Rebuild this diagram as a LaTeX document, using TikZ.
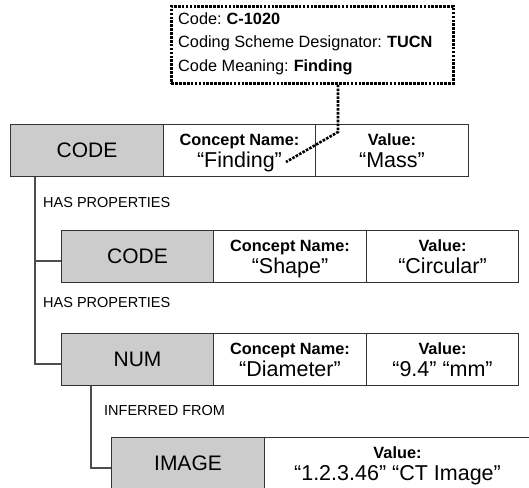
\documentclass[tikz,border=0pt]{standalone}
\usepackage{fontspec}
\setmainfont{Liberation Sans}
\usetikzlibrary{calc}
\definecolor{cellgray}{HTML}{CCCCCC}
\definecolor{edgegray}{HTML}{333333}
\definecolor{linkgray}{HTML}{4D4D4D}
\newcommand{\fsz}[1]{\fontsize{#1}{#1}\selectfont}
\begin{document}
\begin{tikzpicture}[x=1pt,y=-1pt,
  cell/.style={draw=edgegray, line width=1pt, inner sep=0pt, minimum height=52pt, anchor=north west},
  typecell/.style={cell, fill=cellgray},
  typetxt/.style={anchor=base, inner sep=0pt, font=\fsz{21}},
  headtxt/.style={anchor=base, inner sep=0pt, font=\fsz{16.3}\bfseries},
  valtxt/.style={anchor=base, inner sep=0pt, font=\fsz{21.5}},
  reltxt/.style={anchor=base west, inner sep=0pt, font=\fsz{14.5}},
  link/.style={draw=linkgray, line width=1.1pt},
  dotline/.style={draw=black, line width=2.6pt, dash pattern=on 2.6pt off 1.3pt},
  calltxt/.style={anchor=base west, inner sep=0pt, font=\fsz{16.3}}
]
\useasboundingbox (0,0) rectangle (529,487);
\clip (0,0) rectangle (529,487);

% callout
\node[dotline, minimum width=282pt, minimum height=77pt, inner sep=0pt, anchor=north west] (call) at (170,5) {};
\path (call.north west) ++(8,20) node[calltxt] (cl1) {Code:\hspace{5pt}\textbf{C-1020}};
\path (call.north west) ++(8,43) node[calltxt] (cl2) {Coding Scheme Designator:\hspace{5pt}\textbf{TUCN}};
\path (call.north west) ++(8,66) node[calltxt] (cl3) {Code Meaning:\hspace{5pt}\textbf{Finding}};

% row 1
\node[typecell, minimum width=153pt] (r1t) at (10,124) {};
\node[cell, minimum width=152pt] (r1n) at (163,124) {};
\node[cell, minimum width=153pt] (r1v) at (315,124) {};
\path (r1t.north) ++(0,33) node[typetxt] (r1tt) {CODE};
\path (r1n.north) ++(0,21) node[headtxt] (r1nh) {Concept Name:};
\path (r1n.north) ++(0,43) node[valtxt] (r1nv) {“Finding”};
\path (r1v.north) ++(0,21) node[headtxt] (r1vh) {Value:};
\path (r1v.north) ++(0,43) node[valtxt] (r1vv) {“Mass”};

% row 2
\node[typecell, minimum width=152pt] (r2t) at (61,230) {};
\node[cell, minimum width=153pt] (r2n) at (213,230) {};
\node[cell, minimum width=152pt] (r2v) at (366,230) {};
\path (r2t.north) ++(0,33) node[typetxt] (r2tt) {CODE};
\path (r2n.north) ++(0,21) node[headtxt] (r2nh) {Concept Name:};
\path (r2n.north) ++(0,43) node[valtxt] (r2nv) {“Shape”};
\path (r2v.north) ++(0,21) node[headtxt] (r2vh) {Value:};
\path (r2v.north) ++(0,43) node[valtxt] (r2vv) {“Circular”};

% row 3
\node[typecell, minimum width=152pt] (r3t) at (61,333) {};
\node[cell, minimum width=153pt] (r3n) at (213,333) {};
\node[cell, minimum width=152pt] (r3v) at (366,333) {};
\path (r3t.north) ++(0,33) node[typetxt] (r3tt) {NUM};
\path (r3n.north) ++(0,21) node[headtxt] (r3nh) {Concept Name:};
\path (r3n.north) ++(0,43) node[valtxt] (r3nv) {“Diameter”};
\path (r3v.north) ++(0,21) node[headtxt] (r3vh) {Value:};
\path (r3v.north) ++(0,43) node[valtxt] (r3vv) {“9.4” “mm”};

% row 4
\node[typecell, minimum width=153pt] (r4t) at (111,437) {};
\node[cell, minimum width=266pt] (r4v) at (264,437) {};
\path (r4t.north) ++(0,33) node[typetxt] (r4tt) {IMAGE};
\path (r4v.north) ++(0,21) node[headtxt] (r4vh) {Value:};
\path (r4v.north) ++(0,43) node[valtxt] (r4vv) {“1.2.3.46” “CT Image”};

% dotted callout connector
\coordinate (bend) at (338,132);
\coordinate (cend) at (286,162);
\draw[dotline] (call.south -| bend) -- (bend) -- (cend);

% relation connectors
\coordinate (trunk1) at (35,0);
\coordinate (trunk2) at (91,0);
\coordinate (h2) at ($(r2t.north west)+(0,31)$);
\coordinate (h3) at ($(r3t.north west)+(0,31)$);
\coordinate (h4) at ($(r4t.north west)+(0,31)$);
\draw[link] (trunk1 |- r1t.south) -- (trunk1 |- h3) -- (h3);
\draw[link] (trunk1 |- h2) -- (h2);
\draw[link] (trunk2 |- r3t.south) -- (trunk2 |- h4) -- (h4);

% relation labels
\node[reltxt] (l1) at (43,207) {HAS PROPERTIES};
\node[reltxt] (l2) at (43,307) {HAS PROPERTIES};
\node[reltxt] (l3) at (104,415) {INFERRED FROM};
\end{tikzpicture}
\end{document}
